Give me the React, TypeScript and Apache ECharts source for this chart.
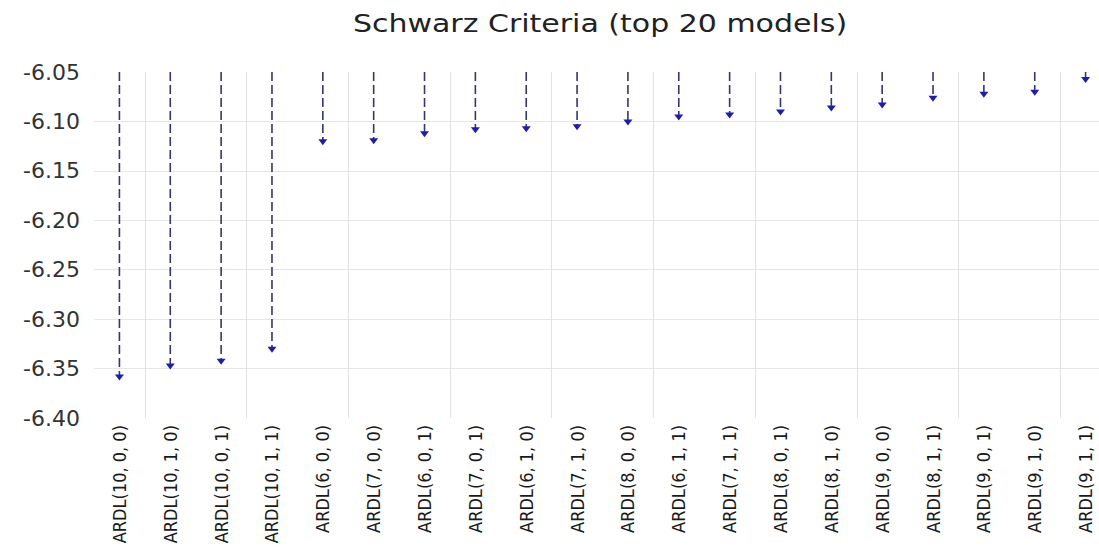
import React, { useEffect, useRef } from "react";
import * as echarts from "echarts";

const models = [
  "ARDL(10, 0, 0)", "ARDL(10, 1, 0)", "ARDL(10, 0, 1)", "ARDL(10, 1, 1)",
  "ARDL(6, 0, 0)", "ARDL(7, 0, 0)", "ARDL(6, 0, 1)", "ARDL(7, 0, 1)",
  "ARDL(6, 1, 0)", "ARDL(7, 1, 0)", "ARDL(8, 0, 0)", "ARDL(6, 1, 1)",
  "ARDL(7, 1, 1)", "ARDL(8, 0, 1)", "ARDL(8, 1, 0)", "ARDL(9, 0, 0)",
  "ARDL(8, 1, 1)", "ARDL(9, 0, 1)", "ARDL(9, 1, 0)", "ARDL(9, 1, 1)",
];
const schwarz = [
  -6.359, -6.348, -6.343, -6.331,
  -6.121, -6.120, -6.113, -6.109,
  -6.108, -6.106, -6.101, -6.096,
  -6.094, -6.091, -6.087, -6.084,
  -6.077, -6.073, -6.071, -6.058,
];
const yMin = -6.4;
const yMax = -6.05;
const yStep = 0.05;
const titleText = "Schwarz Criteria (top 20 models)";

export default function App() {
  const ref = useRef<HTMLDivElement>(null);
  useEffect(() => {
    if (!ref.current) return;
    const chart = echarts.init(ref.current, undefined, { renderer: "svg" });
    chart.setOption({
      animation: false,
      backgroundColor: "#ffffff",
      graphic: [
        {
          type: "text",
          x: 600,
          y: 24,
          scaleX: 1.25,
          style: {
            text: titleText,
            fontFamily: "DejaVu Sans",
            fontSize: 24,
            fill: "#222",
            align: "center",
            verticalAlign: "middle",
          },
        },
      ],
      grid: { left: 94, right: 0, top: 72, bottom: 139, containLabel: false },
      xAxis: {
        type: "category",
        data: models,
        boundaryGap: true,
        axisLine: { show: false },
        axisTick: { show: false },
        splitLine: {
          show: true,
          interval: (i: number) => i % 2 === 1,
          lineStyle: { color: "#e2e2e2", width: 1 },
        },
        axisLabel: {
          interval: 0,
          rotate: 90,
          margin: 7,
          fontFamily: "DejaVu Sans Condensed",
          fontSize: 18,
          color: "#1a1a1a",
        },
      },
      yAxis: {
        type: "value",
        min: yMin,
        max: yMax,
        interval: yStep,
        axisLine: { show: false },
        axisTick: { show: false },
        splitLine: {
          show: true,
          showMinLine: false,
          showMaxLine: false,
          lineStyle: { color: "#e6e6e6", width: 1 },
        },
        axisLabel: {
          margin: 14,
          fontFamily: "DejaVu Sans",
          fontSize: 22,
          color: "#333",
          formatter: (v: number) => v.toFixed(2),
        },
      },
      series: [
        {
          type: "custom",
          data: schwarz.map((v, i) => [i, v]),
          encode: { x: 0, y: 1 },
          clip: false,
          renderItem: (params: any, api: any) => {
            const top = api.coord([api.value(0), yMax]);
            const p = api.coord([api.value(0), api.value(1)]);
            const x = p[0];
            const y = p[1];
            return {
              type: "group",
              children: [
                {
                  type: "line",
                  shape: { x1: x, y1: top[1], x2: x, y2: y - 2 },
                  style: { stroke: "#36366f", lineWidth: 1.6, lineDash: [9, 4] },
                },
                {
                  type: "polygon",
                  shape: { points: [[x - 4.5, y - 3], [x + 4.5, y - 3], [x, y + 3]] },
                  style: { fill: "#1e1ea8" },
                },
              ],
            };
          },
        },
      ],
    });
    return () => chart.dispose();
  }, []);
  return (
    <div style={{ position: "absolute", left: 0, top: 0, width: 1099, height: 557, overflow: "hidden" }}>
      <div ref={ref} style={{ position: "absolute", left: 0, top: 0, width: 1111, height: 557 }} />
    </div>
  );
}
